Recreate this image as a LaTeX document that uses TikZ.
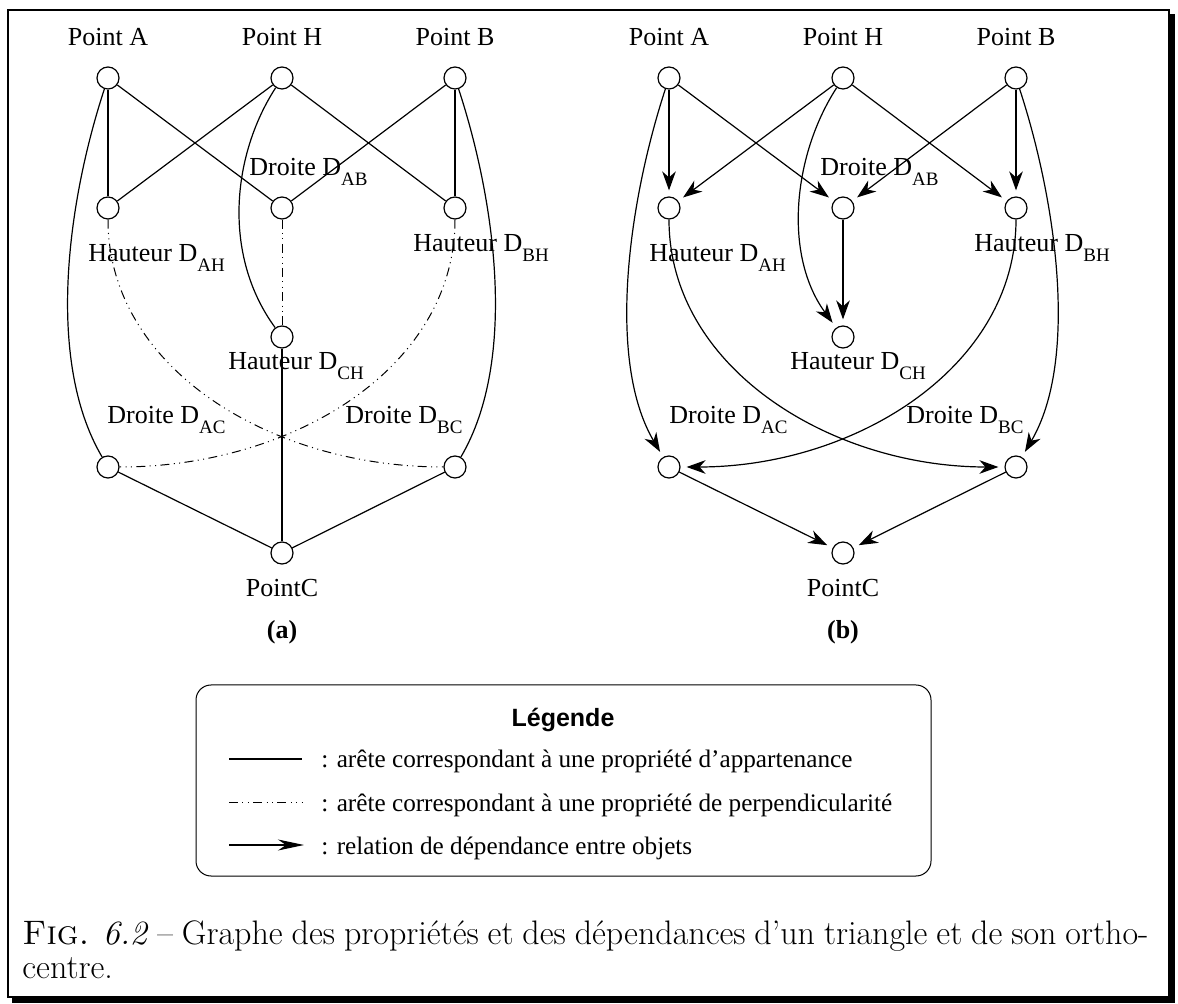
\documentclass[tikz,border=0pt]{standalone}
\usepackage{fontspec}
\newfontfamily\tms{Liberation Serif}
\newfontfamily\hlv{Liberation Sans}
\usetikzlibrary{arrows.meta}

% label with a lowered subscript after the letter D
\newcommand\Dsub[1]{D\raisebox{-5pt}{\fontsize{9.5}{9.5}\selectfont #1}}

\begin{document}
\begin{tikzpicture}[x=0.5pt,y=-0.5pt,
  vtx/.style={circle,draw,line width=0.6pt,minimum size=11pt,inner sep=0pt},
  edge/.style={line width=0.6pt},
  perp/.style={line width=0.5pt,dash pattern=on 4.5pt off 2.2pt on 0.5pt off 2.2pt on 0.5pt off 2.2pt},
  dep/.style={line width=0.6pt,-{Stealth[length=9.5pt,width=6.8pt,inset=3pt]},shorten >=3pt},
  lbl/.style={font=\tms\fontsize{13}{13}\selectfont,inner sep=0pt,anchor=base west},
  lblc/.style={font=\tms\fontsize{13}{13}\selectfont,inner sep=0pt,anchor=base},
  leg/.style={font=\tms\fontsize{12.6}{12.6}\selectfont,inner sep=0pt,anchor=base west}]

\useasboundingbox (0,0) rectangle (1178,1004);
\fill[white] (0,0) rectangle (1178,1004);

% shadowed frame
\draw[line width=1pt] (8,10) rectangle (1169,997);
\fill[black] (1169,14) rectangle (1175,1003);
\fill[black] (12,997) rectangle (1175,1003);

% ---------------- panel (a): property graph ----------------
\node[vtx] (aA)   at (108,78)  {};
\node[vtx] (aH)   at (282,78)  {};
\node[vtx] (aB)   at (455,78)  {};
\node[vtx] (aDAH) at (108,208) {};
\node[vtx] (aDAB) at (282,208) {};
\node[vtx] (aDBH) at (455,208) {};
\node[vtx] (aDCH) at (282,337) {};
\node[vtx] (aDAC) at (108,467) {};
\node[vtx] (aDBC) at (455,467) {};
\node[vtx] (aC)   at (282,553) {};

\node[lblc] (laA)   at (108,46)  {Point A};
\node[lblc] (laH)   at (282,46)  {Point H};
\node[lblc] (laB)   at (455,46)  {Point B};
\node[lbl]  (laDAB) at (249,176) {Droite \Dsub{AB}};
\node[lbl]  (laDAH) at (88,262)  {Hauteur \Dsub{AH}};
\node[lbl]  (laDBH) at (413,252) {Hauteur \Dsub{BH}};
\node[lbl]  (laDCH) at (228,370) {Hauteur \Dsub{CH}};
\node[lbl]  (laDAC) at (107,424) {Droite \Dsub{AC}};
\node[lbl]  (laDBC) at (345,424) {Droite \Dsub{BC}};
\node[lblc] (laC)   at (282,597) {PointC};
\node[lblc,font=\tms\bfseries\fontsize{13}{13}\selectfont] (capa) at (282,639) {(a)};

\draw[edge] (aA) -- (aDAH);
\draw[edge] (aA) -- (aDAB);
\draw[edge] (aH) -- (aDAH);
\draw[edge] (aH) -- (aDBH);
\draw[edge] (aB) -- (aDAB);
\draw[edge] (aB) -- (aDBH);
\draw[edge] (aDAC) -- (aC);
\draw[edge] (aDBC) -- (aC);
\draw[edge] (aDCH) -- (aC);
\draw[edge] (aA) .. controls +(-40,122) and +(-63,-107) .. (aDAC);
\draw[edge] (aB) .. controls +(40,122) and +(63,-107) .. (aDBC);
\draw[edge] (aH) .. controls +(-50,77) and +(-60,-82) .. (aDCH);
\draw[perp] (aDAB) -- (aDCH);
\draw[perp] (aDAH) .. controls +(0,160) and +(-185,0) .. (aDBC);
\draw[perp] (aDBH) .. controls +(0,160) and +(185,0) .. (aDAC);

% ---------------- panel (b): dependency graph ----------------
\node[vtx] (bA)   at (669,78)  {};
\node[vtx] (bH)   at (843,78)  {};
\node[vtx] (bB)   at (1016,78) {};
\node[vtx] (bDAH) at (669,208) {};
\node[vtx] (bDAB) at (843,208) {};
\node[vtx] (bDBH) at (1016,208) {};
\node[vtx] (bDCH) at (843,337) {};
\node[vtx] (bDAC) at (669,467) {};
\node[vtx] (bDBC) at (1016,467) {};
\node[vtx] (bC)   at (843,553) {};

\node[lblc] (lbA)   at (669,46)  {Point A};
\node[lblc] (lbH)   at (843,46)  {Point H};
\node[lblc] (lbB)   at (1016,46) {Point B};
\node[lbl]  (lbDAB) at (820,176) {Droite \Dsub{AB}};
\node[lbl]  (lbDAH) at (649,262) {Hauteur \Dsub{AH}};
\node[lbl]  (lbDBH) at (974,252) {Hauteur \Dsub{BH}};
\node[lbl]  (lbDCH) at (790,370) {Hauteur \Dsub{CH}};
\node[lbl]  (lbDAC) at (669,424) {Droite \Dsub{AC}};
\node[lbl]  (lbDBC) at (906,424) {Droite \Dsub{BC}};
\node[lblc] (lbC)   at (843,597) {PointC};
\node[lblc,font=\tms\bfseries\fontsize{13}{13}\selectfont] (capb) at (843,639) {(b)};

\draw[dep] (bA) -- (bDAH);
\draw[dep] (bA) -- (bDAB);
\draw[dep] (bH) -- (bDAH);
\draw[dep] (bH) -- (bDBH);
\draw[dep] (bB) -- (bDAB);
\draw[dep] (bB) -- (bDBH);
\draw[dep] (bDAB) -- (bDCH);
\draw[dep] (bDAC) -- (bC);
\draw[dep] (bDBC) -- (bC);
\draw[dep] (bA) .. controls +(-40,122) and +(-63,-107) .. (bDAC);
\draw[dep] (bB) .. controls +(40,122) and +(63,-107) .. (bDBC);
\draw[dep] (bH) .. controls +(-50,77) and +(-60,-82) .. (bDCH);
\draw[dep] (bDAH) .. controls +(0,160) and +(-185,0) .. (bDBC);
\draw[dep] (bDBH) .. controls +(0,160) and +(185,0) .. (bDAC);

% ---------------- legend ----------------
\draw[line width=0.5pt,rounded corners=7.5pt] (196,685) rectangle (931,876);
\node[font=\hlv\bfseries\fontsize{12.5}{12.5}\selectfont,inner sep=0pt,anchor=base] (legt) at (563,727) {Légende};
\coordinate (s1a) at (229,759); \coordinate (s1b) at (302,759);
\coordinate (s2a) at (229,803); \coordinate (s2b) at (302,803);
\coordinate (s3a) at (229,845); \coordinate (s3b) at (304,845);
\draw[edge] (s1a) -- (s1b);
\draw[perp] (s2a) -- (s2b);
\draw[line width=0.6pt,-{Stealth[length=13pt,width=5.5pt,inset=4pt]}] (s3a) -- (s3b);
\node[leg] (leg1) at (321,768) {: arête correspondant à une propriété d’appartenance};
\node[leg] (leg2) at (321,812) {: arête correspondant à une propriété de perpendicularité};
\node[leg] (leg3) at (321,855) {: relation de dépendance entre objets};

% ---------------- caption ----------------
\node[inner sep=0pt,anchor=base west,font=\fontsize{17}{18}\selectfont] (cap1) at (22,944)
  {\makebox[563pt][s]{\textsc{Fig.} \textit{6.2} -- Graphe des propriétés et des dépendances d’un triangle et de son ortho-}};
\node[inner sep=0pt,anchor=base west,font=\fontsize{17}{18}\selectfont] (cap2) at (22,978) {centre.};
\end{tikzpicture}
\end{document}
